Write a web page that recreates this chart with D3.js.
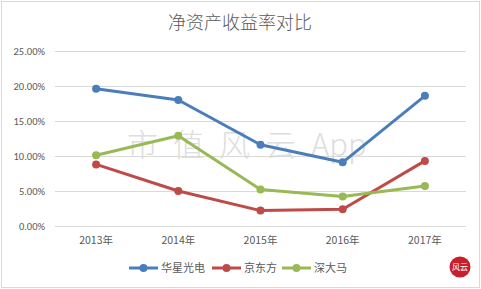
<!DOCTYPE html>
<html>
<head>
<meta charset="utf-8">
<script src="https://cdn.jsdelivr.net/npm/d3@7"></script>
<style>
  body { margin: 0; background: #fff; }
  svg { display: block; }
  text { font-family: "Noto Sans CJK SC", "Noto Sans", sans-serif; }
</style>
</head>
<body>
<div id="chart"></div>
<script>
const years = ["2013年", "2014年", "2015年", "2016年", "2017年"];
const yTicks = [0, 0.05, 0.10, 0.15, 0.20, 0.25];
const seriesNames = ["华星光电", "京东方", "深大马"];
const seriesColors = ["#4a7ebb", "#be4b48", "#98b954"];
const huaxing = [0.196, 0.180, 0.116, 0.091, 0.186];
const boe = [0.088, 0.050, 0.022, 0.024, 0.093];
const tianma = [0.101, 0.129, 0.052, 0.042, 0.057];
const allSeries = [huaxing, boe, tianma];

const W = 481, H = 289;
const margin = { top: 51, right: 15, bottom: 63, left: 55 },
      width = W - margin.left - margin.right,
      height = H - margin.top - margin.bottom;

const root = d3.select("#chart").append("svg")
    .attr("width", W).attr("height", H);

// outer frame
root.append("rect")
    .attr("x", 1.5).attr("y", 1.5)
    .attr("width", W - 3).attr("height", H - 3)
    .attr("fill", "#fff").attr("stroke", "#d9d9d9");

// title
root.append("text")
    .attr("x", 240).attr("y", 29)
    .attr("text-anchor", "middle")
    .attr("font-size", 18)
    .attr("font-weight", 300)
    .attr("fill", "#595959")
    .text("净资产收益率对比");

const svg = root.append("g")
    .attr("transform", `translate(${margin.left},${margin.top})`);

const x = d3.scaleBand().domain(years).range([0, width]);
const y = d3.scaleLinear().domain([0, 0.25]).range([height, 0]);

// grid
svg.append("g")
   .call(d3.axisLeft(y).tickValues(yTicks).tickSize(-width).tickFormat(""))
   .call(g => g.select(".domain").remove())
   .call(g => g.selectAll("line").attr("stroke", "#d9d9d9"));

// y labels
svg.append("g")
   .call(d3.axisLeft(y).tickValues(yTicks).tickSize(0).tickPadding(10)
           .tickFormat(d3.format(".2%")))
   .call(g => g.select(".domain").remove())
   .call(g => g.selectAll("text")
       .attr("font-size", 10.5).attr("fill", "#595959")
       .style("font-family", "Calibri, Carlito, 'Liberation Sans', sans-serif"));

// x labels
svg.append("g")
   .attr("transform", `translate(0,${height})`)
   .call(d3.axisBottom(x).tickSize(0).tickPadding(11))
   .call(g => g.select(".domain").remove())
   .call(g => g.selectAll("text")
       .attr("font-size", 10.5).attr("fill", "#595959"));

// watermark
const wm = svg.append("text")
   .attr("x", 72).attr("y", 105)
   .attr("font-size", 31)
   .attr("font-weight", 300)
   .attr("fill", "#d6d6d6")
   .attr("opacity", 0.8);
wm.append("tspan").attr("letter-spacing", 15).text("市值风云");
wm.append("tspan").attr("letter-spacing", 0).text("App");

const line = d3.line()
    .x((d, i) => x(years[i]) + x.bandwidth() / 2)
    .y(d => y(d));

allSeries.forEach((vals, s) => {
    svg.append("path")
       .datum(vals)
       .attr("fill", "none")
       .attr("stroke", seriesColors[s])
       .attr("stroke-width", 3)
       .attr("stroke-linejoin", "round")
       .attr("d", line);
    svg.selectAll(null)
       .data(vals)
       .enter().append("circle")
       .attr("cx", (d, i) => x(years[i]) + x.bandwidth() / 2)
       .attr("cy", d => y(d))
       .attr("r", 4)
       .attr("fill", seriesColors[s]);
});

// legend
const legendX = [129, 212, 282];
const legend = root.append("g").attr("transform", "translate(0,268)");
seriesNames.forEach((name, s) => {
    const g = legend.append("g").attr("transform", `translate(${legendX[s]},0)`);
    g.append("line").attr("x1", 0).attr("x2", 29)
     .attr("stroke", seriesColors[s]).attr("stroke-width", 3);
    g.append("circle").attr("cx", 14.5).attr("r", 4).attr("fill", seriesColors[s]);
    g.append("text").attr("x", 32).attr("y", 4)
     .attr("font-size", 11).attr("fill", "#595959").text(name);
});

// corner logo
const logo = root.append("g").attr("transform", "translate(460,267)");
logo.append("circle").attr("r", 10.5).attr("fill", "#c8202a");
logo.append("text").attr("y", 3).attr("text-anchor", "middle")
    .attr("font-size", 8).attr("fill", "#fff").text("风云");
</script>
</body>
</html>
